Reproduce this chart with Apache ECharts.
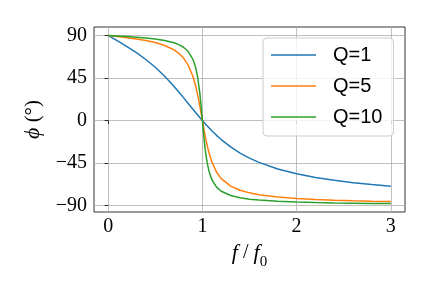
<!DOCTYPE html>
<html>
<head>
<meta charset="utf-8">
<script src="https://cdn.jsdelivr.net/npm/echarts@6/dist/echarts.min.js"></script>
<style>html,body{margin:0;padding:0;background:#fff}#c{width:432px;height:288px}</style>
</head>
<body>
<div id="c"></div>
<script>
var freq = [0, 0.1, 0.2, 0.3, 0.4, 0.5, 0.6, 0.7, 0.75, 0.8, 0.85, 0.9, 0.93, 0.95, 0.97, 0.98, 0.99, 1, 1.01, 1.02, 1.03, 1.05, 1.07, 1.1, 1.15, 1.2, 1.3, 1.4, 1.5, 1.6, 1.8, 2, 2.2, 2.4, 2.6, 2.8, 3];
var phaseQ1 = [90, 84.23, 78.23, 71.75, 64.54, 56.31, 46.85, 36.08, 30.26, 24.23, 18.08, 11.92, 8.27, 5.86, 3.49, 2.31, 1.15, 0, -1.14, -2.27, -3.38, -5.58, -7.71, -10.81, -15.67, -20.13, -27.95, -34.44, -39.81, -44.27, -51.22, -56.31, -60.2, -63.24, -65.70, -67.74, -69.44];
var phaseQ5 = [90, 88.84, 87.61, 86.23, 84.56, 82.41, 79.38, 74.65, 71.07, 66.04, 58.51, 46.55, 35.99, 27.16, 16.94, 11.42, 5.74, 0, -5.68, -11.21, -16.47, -26.02, -34.10, -43.66, -54.51, -61.39, -69.35, -73.74, -76.50, -78.41, -80.87, -82.41, -83.46, -84.24, -84.84, -85.32, -85.71];
var phaseQ10 = [90, 89.42, 88.81, 88.11, 87.27, 86.19, 84.64, 82.19, 80.27, 77.47, 72.97, 64.65, 55.46, 45.74, 31.35, 22.00, 11.37, 0, -11.26, -21.61, -30.59, -44.31, -53.56, -62.36, -70.38, -74.74, -79.33, -81.70, -83.16, -84.14, -85.41, -86.19, -86.72, -87.11, -87.41, -87.66, -87.85];
var seriesNames = ['Q=1', 'Q=5', 'Q=10'];
var xTicks = [0, 1, 2, 3];
var yTicks = [-90, -45, 0, 45, 90];

function pairs(xs, ys) { return xs.map(function (x, i) { return [x, ys[i]]; }); }
var colors = ['#1f77b4', '#ff7f0e', '#2ca02c'];
var allData = [phaseQ1, phaseQ5, phaseQ10];
var serif = 'Liberation Serif, DejaVu Serif, serif';

var chart = echarts.init(document.getElementById('c'), null, {renderer: 'canvas'});
chart.setOption({
  animation: false,
  backgroundColor: '#fff',
  grid: {left: 94, right: 27, top: 27, bottom: 76, show: true, borderColor: '#000', borderWidth: 0.8, backgroundColor: 'transparent'},
  xAxis: {
    type: 'value', min: -0.15, max: 3.15,
    axisLine: {show: false},
    axisTick: {show: true, customValues: xTicks, length: 3.5, lineStyle: {color: '#000', width: 0.8}},
    axisLabel: {customValues: xTicks, margin: 5, color: '#000', fontFamily: serif, fontSize: 20},
    splitLine: {show: true, lineStyle: {color: '#b0b0b0', width: 0.8}},
    name: '{i|f} / {i|f}{s|0}',
    nameLocation: 'middle', nameGap: 23,
    nameTextStyle: {color: '#000', fontFamily: serif, fontSize: 20,
      rich: {i: {fontStyle: 'italic', fontFamily: serif, fontSize: 22, color: '#000'},
             s: {fontFamily: serif, fontSize: 15, color: '#000', verticalAlign: 'bottom', padding: [0,0,-6,0]}}}
  },
  yAxis: {
    type: 'value', min: -96.74, max: 98.89,
    axisLine: {show: false},
    axisTick: {show: true, customValues: yTicks, length: 3.5, lineStyle: {color: '#000', width: 0.8}},
    axisLabel: {customValues: yTicks, margin: 7, color: '#000', fontFamily: serif, fontSize: 20,
      formatter: function (v) { return String(v).replace('-', '\u2212'); }},
    splitLine: {show: true, lineStyle: {color: '#b0b0b0', width: 0.8}},
    name: '{i|\u03d5} (\u00b0)',
    nameLocation: 'middle', nameGap: 50, nameRotate: 90,
    nameTextStyle: {color: '#000', fontFamily: serif, fontSize: 21,
      rich: {i: {fontStyle: 'italic', fontFamily: serif, fontSize: 22, color: '#000'}}}
  },
  legend: {
    orient: 'vertical', left: 263, top: 38,
    icon: 'rect', itemWidth: 45, itemHeight: 1.6, itemGap: 11,
    padding: [7, 11, 9, 8],
    backgroundColor: 'rgba(255,255,255,0.8)', borderColor: '#cccccc', borderWidth: 1, borderRadius: 4,
    textStyle: {fontFamily: 'Liberation Sans, Arial, sans-serif', fontSize: 20, lineHeight: 20, color: '#000', padding: [0, 0, 0, 12]},
    data: seriesNames
  },
  series: seriesNames.map(function (n, i) {
    return {
      name: n, type: 'line', data: pairs(freq, allData[i]),
      symbol: 'none', smooth: false, clip: true,
      lineStyle: {color: colors[i], width: 1.5}, itemStyle: {color: colors[i]}
    };
  })
});
</script>
</body>
</html>
